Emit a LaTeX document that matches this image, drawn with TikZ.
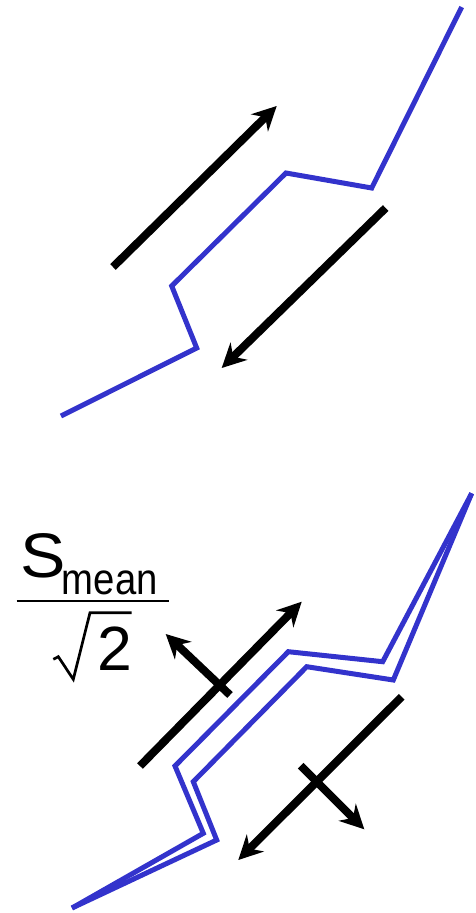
\documentclass[tikz,border=0pt]{standalone}
\usepackage{fontspec}
\setmainfont{Liberation Sans}
\usetikzlibrary{arrows.meta}
\definecolor{fblue}{RGB}{51,51,204}
\tikzset{
  fault/.style={draw=fblue, line width=5pt},
  slip/.style={draw=black, line width=8pt, -{Stealth[length=24pt,width=24pt,inset=8pt]}},
  txt/.style={inner sep=0pt, anchor=base west},
}
\begin{document}
\begin{tikzpicture}[x=1pt,y=-1pt]
\useasboundingbox (0,0) rectangle (475,913);
% top fault
\coordinate (a1) at (61,416);
\coordinate (a2) at (196.7,348);
\coordinate (a3) at (171.7,286);
\coordinate (a4) at (286,173);
\coordinate (a5) at (371.7,188);
\coordinate (a6) at (461.7,7);
\draw[fault] (a1) -- (a2) -- (a3) -- (a4) -- (a5) -- (a6);
% top arrows
\coordinate (t1s) at (113,267);
\coordinate (t1e) at (276.7,106);
\coordinate (t2s) at (385.7,208);
\coordinate (t2e) at (221.7,368);
\draw[slip] (t1s) -- (t1e);
\draw[slip] (t2s) -- (t2e);
% bottom faults
\coordinate (b0) at (72,908);
\coordinate (bt) at (471.7,493.3);
\coordinate (p1) at (203.3,833.3);
\coordinate (p2) at (175,766);
\coordinate (p3) at (288.3,651.7);
\coordinate (p4) at (382.7,661.7);
\coordinate (q1) at (216.7,840);
\coordinate (q2) at (193.3,781.7);
\coordinate (q3) at (306.7,666.7);
\coordinate (q4) at (393.3,680);
\draw[fault] (b0) -- (p1) -- (p2) -- (p3) -- (p4) -- (bt);
\draw[fault] (b0) -- (q1) -- (q2) -- (q3) -- (q4) -- (bt);
% bottom arrows
\coordinate (u1s) at (140,766);
\coordinate (u1e) at (301.7,601.7);
\coordinate (u2s) at (230,695);
\coordinate (u2e) at (165.7,634);
\coordinate (v1s) at (401.7,696.7);
\coordinate (v1e) at (238.3,860);
\coordinate (v2s) at (300.7,765.7);
\coordinate (v2e) at (364.3,829.3);
\draw[slip] (u1s) -- (u1e);
\draw[slip] (u2s) -- (u2e);
\draw[slip] (v1s) -- (v1e);
\draw[slip] (v2s) -- (v2e);
% formula
\node[txt, xscale=1.08] (S) at (19.8,577) {\fontsize{63}{65}\selectfont S};
\node[txt, xscale=0.87] (mean) at (61.8,594) {\fontsize{44}{46}\selectfont mean};
\coordinate (f1) at (16.7,601);
\coordinate (f2) at (169.3,601);
\draw[line width=2.8pt] (f1) -- (f2);
\node[txt] (two) at (97.3,670) {\fontsize{62.5}{64}\selectfont 2};
\coordinate (r1) at (53.3,659.3);
\coordinate (r2) at (58.3,656.7);
\coordinate (r3) at (73.3,679.3);
\coordinate (r4) at (90,612.7);
\coordinate (r5) at (131.7,612.7);
\draw[line width=2.7pt, line join=miter] (r1) -- (r2) -- (r3) -- (r4) -- (r5);
\end{tikzpicture}
\end{document}
